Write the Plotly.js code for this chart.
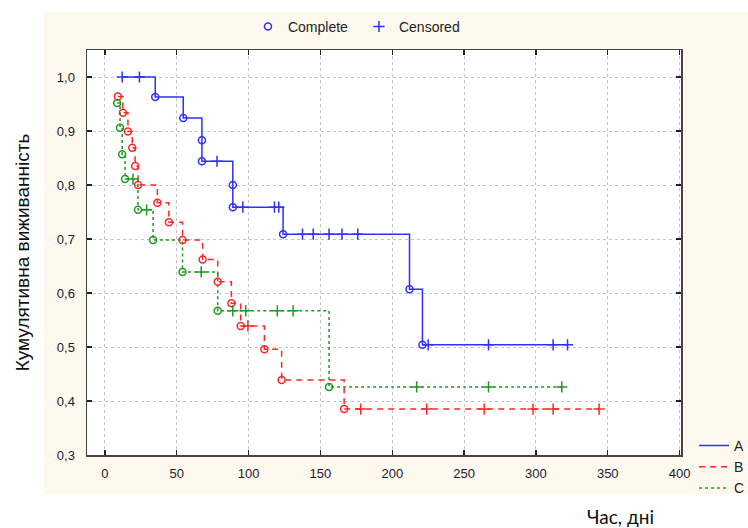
<!DOCTYPE html>
<html><head><meta charset="utf-8">
<script src="https://cdn.plot.ly/plotly-3.0.1.min.js"></script>
<style>html,body{margin:0;padding:0;background:#fff}#chart{width:748px;height:528px}</style>
</head><body><div id="chart"></div>
<script>
// Group names
const groupNames = ['A', 'B', 'C'];
// Group A (blue): time, cumulative survival, censored flag (1 = censored, 0 = complete)
const timeA = [12, 24, 35, 54.5, 67.5, 67.5, 78, 89, 89, 96, 118, 121, 124, 137.5, 145, 156, 165, 176, 212, 221, 225, 267, 312, 322];
const survA = [1.0, 1.0, 0.963, 0.924, 0.883, 0.844, 0.844, 0.80, 0.759, 0.759, 0.759, 0.759, 0.709, 0.709, 0.709, 0.709, 0.709, 0.709, 0.607, 0.504, 0.504, 0.504, 0.504, 0.504];
const censA = [1, 1, 0, 0, 0, 0, 1, 0, 0, 1, 1, 1, 0, 1, 1, 1, 1, 1, 0, 0, 1, 1, 1, 1];
// Group B (red)
const timeB = [9, 12.5, 16, 19, 21, 23, 36.5, 44.5, 54, 68, 78.5, 88, 94.5, 99.5, 111, 123, 166.5, 178, 224, 264, 298, 312, 344];
const survB = [0.964, 0.934, 0.899, 0.869, 0.835, 0.80, 0.767, 0.731, 0.698, 0.662, 0.621, 0.581, 0.539, 0.539, 0.496, 0.439, 0.385, 0.385, 0.385, 0.385, 0.385, 0.385, 0.385];
const censB = [0, 0, 0, 0, 0, 0, 0, 0, 0, 0, 0, 0, 0, 1, 0, 0, 0, 1, 1, 1, 1, 1, 1];
// Group C (green)
const timeC = [8.5, 10.5, 12, 14, 19.5, 23, 29, 33.5, 54, 67, 78.5, 89, 98, 120, 131, 156, 217, 267, 318];
const survC = [0.952, 0.906, 0.857, 0.811, 0.811, 0.754, 0.754, 0.698, 0.639, 0.639, 0.567, 0.567, 0.567, 0.567, 0.567, 0.426, 0.426, 0.426, 0.426];
const censC = [0, 0, 0, 0, 1, 0, 1, 0, 0, 1, 0, 1, 1, 1, 1, 0, 1, 1, 1];
// Axis ticks
const xTicks = [0, 50, 100, 150, 200, 250, 300, 350, 400];
const yTicks = [0.3, 0.4, 0.5, 0.6, 0.7, 0.8, 0.9, 1.0];
const yTickText = ['0,3', '0,4', '0,5', '0,6', '0,7', '0,8', '0,9', '1,0'];
const markerLegend = ['Complete', 'Censored'];
const xTitle = 'Час, дні';
const yTitle = 'Кумулятивна виживанність';

const groups = [
  {t: timeA, s: survA, c: censA, color: '#2f2fff', dash: 'solid'},
  {t: timeB, s: survB, c: censB, color: '#ff2626', dash: '6px,5px'},
  {t: timeC, s: survC, c: censC, color: '#1f9a1f', dash: 'dot'}
];

const traces = [];
groups.forEach((g, i) => {
  traces.push({
    type: 'scatter', mode: 'lines', x: g.t, y: g.s, name: groupNames[i],
    line: {shape: 'hv', color: g.color, width: 1.5, dash: g.dash},
    legend: 'legend2', hoverinfo: 'skip'
  });
});
groups.forEach((g, i) => {
  const xc = [], yc = [], xx = [], yx = [];
  g.t.forEach((t, k) => {
    if (g.c[k]) { xx.push(t); yx.push(g.s[k]); } else { xc.push(t); yc.push(g.s[k]); }
  });
  traces.push({
    type: 'scatter', mode: 'markers', x: xc, y: yc, name: markerLegend[0],
    showlegend: i === 0, legend: 'legend',
    marker: {symbol: 'circle-open', size: 7, color: g.color, line: {width: 1.5, color: g.color}}
  });
  traces.push({
    type: 'scatter', mode: 'markers', x: xx, y: yx, name: markerLegend[1],
    showlegend: i === 0, legend: 'legend',
    marker: {symbol: 'cross-thin-open', size: 8, color: g.color, line: {width: 1.5, color: g.color}}
  });
});

const axisCommon = {
  showline: true, mirror: 'ticks', linecolor: '#444', linewidth: 1.5,
  ticks: 'inside', ticklen: 5, tickcolor: '#222', tickwidth: 1.2,
  showgrid: true, gridcolor: '#c4c4c4', gridwidth: 1, griddash: 'dot',
  zeroline: false,
  tickfont: {family: 'Liberation Sans, Arial, sans-serif', size: 13, color: '#1b1b2b'}
};

const layout = {
  width: 748, height: 528,
  margin: {l: 87, r: 67, t: 50, b: 73, autoexpand: false},
  paper_bgcolor: '#ffffff', plot_bgcolor: '#ffffff',
  showlegend: true,
  xaxis: Object.assign({}, axisCommon, {
    range: [-12.5, 401], tickvals: xTicks, ticktext: xTicks.map(String),
    ticklabelstandoff: 6
  }),
  yaxis: Object.assign({}, axisCommon, {
    range: [0.3, 1.05], tickvals: yTicks, ticktext: yTickText,
    ticklabelstandoff: 8,
    title: {text: yTitle, standoff: 22, font: {family: 'Liberation Sans, Arial, sans-serif', size: 19, color: '#111'}}
  }),
  legend: {
    orientation: 'h', x: 0.271, y: 1.057, xanchor: 'left', yanchor: 'middle',
    bgcolor: 'rgba(0,0,0,0)', font: {family: 'Liberation Sans, Arial, sans-serif', size: 14, color: '#222'},
    itemwidth: 30, entrywidth: 66, entrywidthmode: 'pixels'
  },
  legend2: {
    orientation: 'v', x: 1.022, y: 0.062, xanchor: 'left', yanchor: 'top',
    bgcolor: 'rgba(0,0,0,0)', font: {family: 'Liberation Sans, Arial, sans-serif', size: 14, color: '#222'},
    tracegroupgap: 0
  },
  shapes: [
    {type: 'rect', xref: 'paper', yref: 'paper', x0: -0.0724, x1: 1.12, y0: -0.0963, y1: 1.0938,
     fillcolor: '#fef9ee', line: {width: 0}, layer: 'below'},
    {type: 'rect', xref: 'paper', yref: 'paper', x0: 0, x1: 1, y0: 0, y1: 1,
     fillcolor: '#ffffff', line: {width: 0}, layer: 'below'}
  ],
  annotations: [
    {text: xTitle, xref: 'paper', yref: 'paper', x: 0.898, y: -0.153, xanchor: 'center', yanchor: 'middle',
     showarrow: false, font: {family: 'Lato, Liberation Sans, sans-serif', size: 19, color: '#111'}}
  ]
};

Plotly.newPlot('chart', traces, layout, {displayModeBar: false, staticPlot: true});
</script>
</body></html>
